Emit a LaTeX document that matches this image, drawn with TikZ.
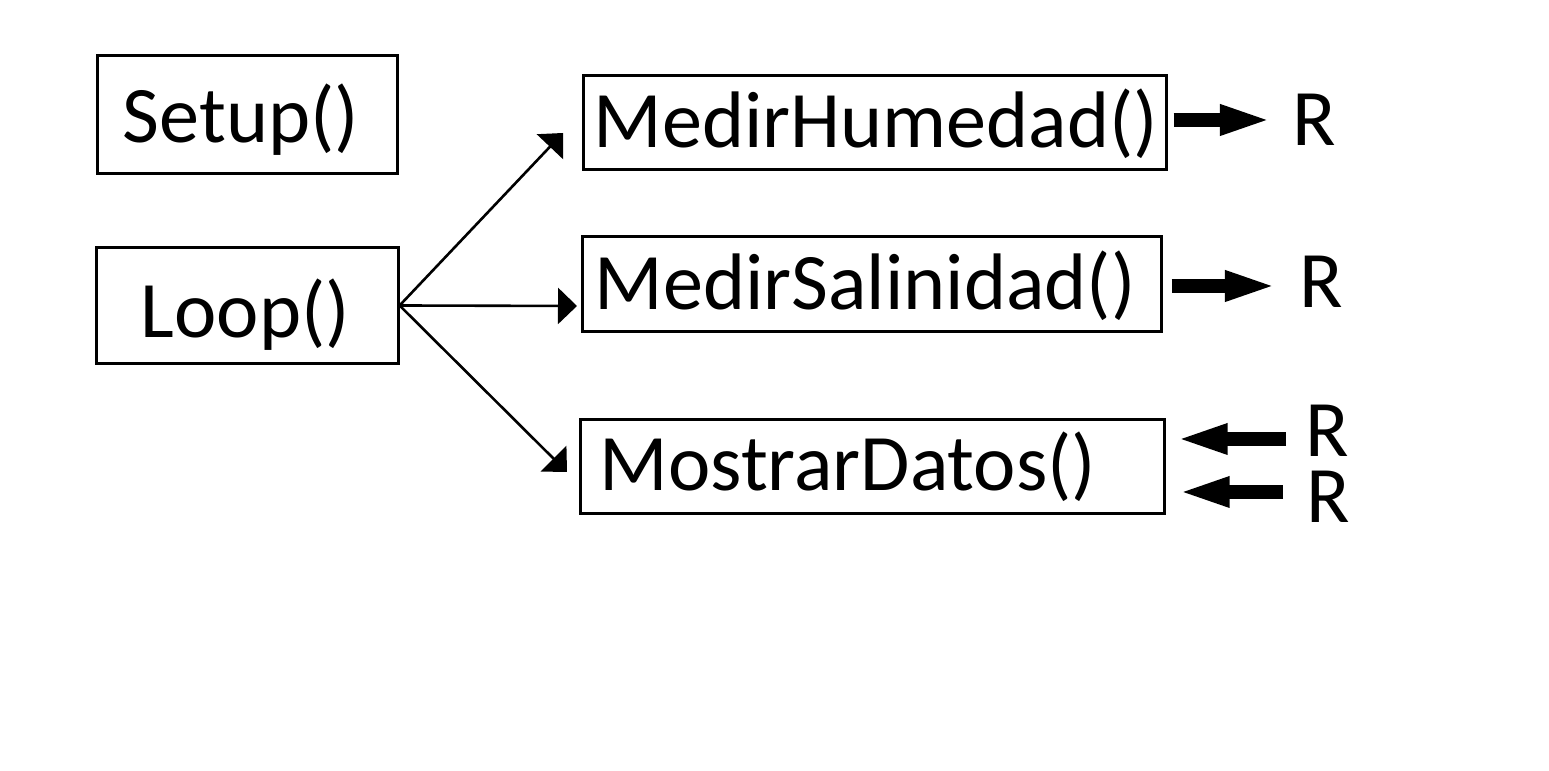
\documentclass[tikz,border=0pt]{standalone}
\usepackage{fontspec}
\setmainfont{Carlito}
\usetikzlibrary{arrows.meta}
\tikzset{
    caja/.style={draw, line width=0.03cm, align=left, inner ysep=0pt,
        font=\fontsize{22.8}{27}\selectfont},
    letra/.style={inner sep=0pt, font=\fontsize{22.8}{27}\selectfont},
    flecha/.style={line width=0.026cm, -{Triangle[length=0.19cm, width=0.36cm]}},
    gruesa/.style={line width=0.14cm, -{Triangle[length=0.53cm, width=0.27cm]}}
}
\begin{document}
\begin{tikzpicture}[x=0.01cm, y=-0.01cm]
            \useasboundingbox ( 0, 0 ) rectangle ( 1549, 771 );
            % cajas
            \node [caja, inner xsep=0.25cm, text width=2.49cm, text height=0.86cm, text depth=0.31cm] (setup) at ( 247.5, 114.5 ) {Setup()};
            \node [caja, inner xsep=0.44cm, text width=2.13cm, text height=0.89cm, text depth=0.26cm] (loop) at ( 247.5, 305.5 ) {Loop()};
            \node [caja, inner xsep=0.10cm, text width=5.62cm, text height=0.72cm, text depth=0.21cm] (hum) at ( 875, 122.5 ) {MedirHumedad()};
            \node [caja, inner xsep=0.12cm, text width=5.54cm, text height=0.72cm, text depth=0.22cm] (sal) at ( 872, 284 ) {MedirSalinidad()};
            \node [caja, inner xsep=0.19cm, text width=5.45cm, text height=0.70cm, text depth=0.23cm] (datos) at ( 872.5, 466.5 ) {MostrarDatos()};

            % salidas R
            \node [letra] (r1) at ( 1314, 120 ) {R};
            \node [letra] (r2) at ( 1321, 282 ) {R};
            \node [letra] (r3) at ( 1327, 431 ) {R};
            \node [letra] (r4) at ( 1328, 497 ) {R};

            % llamadas desde loop
            \coordinate (t1) at ( 563, 133 );
            \coordinate (t2) at ( 577, 306 );
            \coordinate (t3) at ( 567, 472 );
            \draw [flecha] (loop.east) -- (t1);
            \draw [flecha] (loop.east) -- (t2);
            \draw [flecha] (loop.east) -- (t3);

            % flechas gruesas
            \coordinate (a1) at ( 1273, 120 );
            \coordinate (a2) at ( 1278, 286 );
            \coordinate (a3) at ( 1286, 439 );
            \coordinate (a4) at ( 1283, 492 );
            \draw [gruesa, shorten <=0.06cm] (hum.east |- a1) -- (a1);
            \draw [gruesa, shorten <=0.09cm] (sal.east |- a2) -- (a2);
            \draw [gruesa, shorten >=0.09cm] (a3) -- (a3 -| datos.east);
            \draw [gruesa, shorten >=0.11cm] (a4) -- (a4 -| datos.east);
        \end{tikzpicture}
\end{document}
